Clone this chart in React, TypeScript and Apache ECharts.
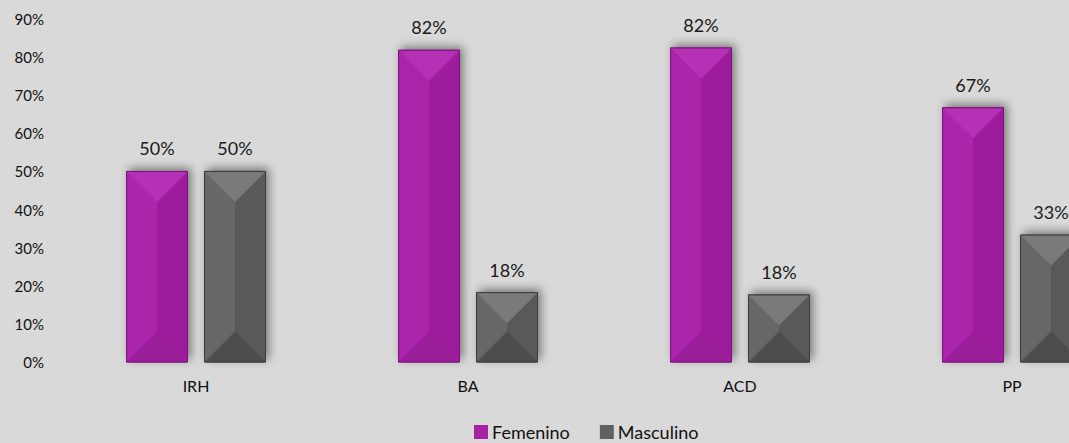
import React, { useEffect, useRef } from "react";
import * as echarts from "echarts";

const categories = ["IRH", "BA", "ACD", "PP"];
const femenino = [50, 81.8, 82.4, 66.7];
const masculino = [50, 18.2, 17.6, 33.3];
const seriesNames = ["Femenino", "Masculino"];

const FONT = "Lato, 'Open Sans', sans-serif";

const palettes = [
  { base: "#a622a6", top: "#b530b5", left: "#aa25aa", right: "#9c1c9c", bottom: "#9a1d9a", stroke: "#7a127a" },
  { base: "#616161", top: "#7a7a7a", left: "#676767", right: "#595959", bottom: "#4c4c4c", stroke: "#3c3c3c" },
];

function makeRender(side: number, pal: any) {
  return (params: any, api: any) => {
    const ci = api.value(0);
    const v = api.value(1);
    const topPt = api.coord([ci, v]);
    const botPt = api.coord([ci, 0]);
    const band = api.size([1, 0])[0];
    const w = (band * 61) / 272;
    const gap = (band * 17) / 272;
    const cx = topPt[0] + side * (gap / 2 + w / 2);
    const x0 = cx - w / 2;
    const x1 = cx + w / 2;
    const y0 = topPt[1];
    const y1 = botPt[1];
    const h = y1 - y0;
    const d = Math.min(w / 2, h / 2);
    return {
      type: "group",
      children: [
        {
          type: "rect",
          shape: { x: x0, y: y0, width: w, height: h },
          style: {
            fill: pal.base,
            stroke: pal.stroke,
            lineWidth: 1,
            shadowBlur: 10,
            shadowOffsetX: 3,
            shadowOffsetY: -3,
            shadowColor: "rgba(0,0,0,0.45)",
          },
        },
        {
          type: "polygon",
          shape: { points: [[x0, y0], [cx, y0 + d], [cx, y1 - d], [x0, y1]] },
          style: { fill: pal.left },
        },
        {
          type: "polygon",
          shape: { points: [[x1, y0], [cx, y0 + d], [cx, y1 - d], [x1, y1]] },
          style: { fill: pal.right },
        },
        {
          type: "polygon",
          shape: { points: [[x0, y0], [x1, y0], [cx, y0 + d]] },
          style: { fill: pal.top },
        },
        {
          type: "polygon",
          shape: { points: [[x0, y1], [x1, y1], [cx, y1 - d]] },
          style: { fill: pal.bottom },
        },
        {
          type: "rect",
          shape: { x: x0, y: y0, width: w, height: h },
          style: { fill: "none", stroke: pal.stroke, lineWidth: 1 },
        },
        {
          type: "text",
          style: {
            text: Math.round(v) + "%",
            x: cx,
            y: y0 - 14,
            align: "center",
            verticalAlign: "bottom",
            textAlign: "center",
            textVerticalAlign: "bottom",
            fontSize: 18,
            fontFamily: FONT,
            fill: "#1a1a1a",
          },
        },
      ],
    };
  };
}

export default function App() {
  const ref = useRef<HTMLDivElement>(null);
  useEffect(() => {
    document.body.style.margin = "0";
    const chart = echarts.init(ref.current!, null, { renderer: "svg" });
    chart.setOption({
      animation: false,
      backgroundColor: "#d9d9d9",
      textStyle: { fontFamily: FONT },
      grid: { left: 60, width: 1088, top: 19, bottom: 81, containLabel: false, outerBoundsMode: "none" },
      legend: {
        left: 474,
        top: 423,
        padding: 0,
        itemGap: 30,
        itemWidth: 14,
        itemHeight: 14,
        icon: "rect",
        textStyle: { fontSize: 18, color: "#111", fontFamily: FONT, padding: [0, 0, 0, -1] },
        data: seriesNames,
      },
      xAxis: {
        type: "category",
        data: categories,
        axisLine: { show: false },
        axisTick: { show: false },
        axisLabel: { fontSize: 16, color: "#111", margin: 15, fontFamily: FONT },
      },
      yAxis: {
        type: "value",
        min: 0,
        max: 90,
        interval: 10,
        splitLine: { show: false },
        axisLine: { show: false },
        axisTick: { show: false },
        axisLabel: { formatter: "{value}%", fontSize: 15, color: "#111", margin: 16, fontFamily: FONT },
      },
      series: [
        {
          name: seriesNames[0],
          type: "custom",
          itemStyle: { color: palettes[0].base },
          renderItem: makeRender(-1, palettes[0]),
          data: femenino.map((v, i) => [i, v]),
        },
        {
          name: seriesNames[1],
          type: "custom",
          itemStyle: { color: palettes[1].base },
          renderItem: makeRender(1, palettes[1]),
          data: masculino.map((v, i) => [i, v]),
        },
      ],
    });
    return () => chart.dispose();
  }, []);
  return (
    <div
      ref={ref}
      style={{ position: "fixed", left: 0, top: 0, width: 1069, height: 443 }}
    />
  );
}
